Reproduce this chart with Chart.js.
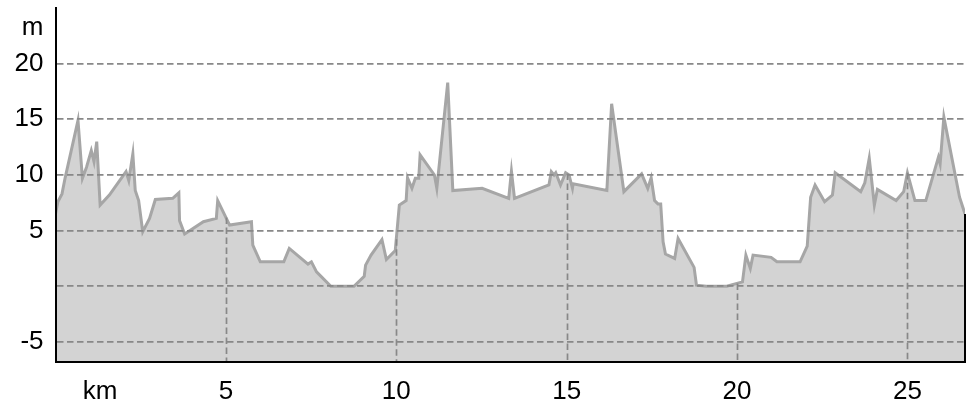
<!DOCTYPE html>
<html>
<head>
<meta charset="utf-8">
<script src="https://cdn.jsdelivr.net/npm/chart.js@4"></script>
<style>
  html, body { margin: 0; padding: 0; background: #fff; }
  #wrap { width: 974px; height: 410px; position: relative; }
</style>
</head>
<body>
<div id="wrap"><canvas id="profileChart"></canvas></div>
<script>
// distance along the route (km) and elevation (m)
const distKm = [0, 0.07, 0.19, 0.28, 0.66, 0.79, 0.91, 1.05, 1.13, 1.21, 1.31, 1.58, 2.07, 2.15, 2.27, 2.34, 2.44, 2.56,
  2.76, 2.93, 3.44, 3.62, 3.64, 3.79, 4.34, 4.72, 4.76, 5.11, 5.75, 5.79, 6.01, 6.7, 6.86, 7.41, 7.51, 7.66, 8.08,
  8.76, 9.06, 9.1, 9.26, 9.58, 9.71, 9.97, 10.09, 10.29, 10.33, 10.46, 10.56, 10.66, 10.7, 11.12, 11.19, 11.51,
  11.66, 12.52, 13.3, 13.38, 13.47, 14.48, 14.55, 14.63, 14.68, 14.82, 14.97, 15.07, 15.17, 15.19, 16.18, 16.32,
  16.68, 17.2, 17.38, 17.48, 17.58, 17.68, 17.76, 17.83, 17.9, 18.17, 18.27, 18.74, 18.81, 19.1, 19.7, 20.16,
  20.26, 20.39, 20.47, 21.0, 21.17, 21.85, 22.06, 22.16, 22.29, 22.57, 22.8, 22.88, 23.63, 23.75, 23.88, 24.03,
  24.12, 24.67, 24.89, 25.0, 25.22, 25.54, 25.91, 25.96, 26.07, 26.53, 26.69];
const elevM = [6.5, 7.6, 8.3, 9.7, 14.9, 9.7, 10.7, 12.2, 11.2, 13.0, 7.3, 8.2, 10.3, 9.5, 11.9, 8.6, 7.7, 4.9,
  6.1, 7.8, 7.9, 8.4, 5.9, 4.7, 5.8, 6.1, 7.7, 5.5, 5.8, 3.7, 2.2, 2.2, 3.4, 2.0, 2.2, 1.3, 0,
  0, 0.9, 1.9, 2.8, 4.2, 2.4, 3.2, 7.3, 7.7, 9.75, 8.8, 9.7, 9.7, 11.8, 10.0, 8.8, 18.3,
  8.6, 8.8, 7.9, 10.35, 7.9, 9.1, 10.3, 10.0, 10.2, 9.1, 10.2, 10.0, 8.8, 9.2, 8.6, 16.4,
  8.5, 10.1, 8.8, 9.75, 7.7, 7.4, 7.4, 4.0, 2.9, 2.5, 4.3, 1.7, 0.1, 0, 0, 0.4,
  2.8, 1.6, 2.8, 2.6, 2.2, 2.2, 3.6, 8.0, 9.1, 7.6, 8.2, 10.2, 8.5, 9.3, 11.5, 7.3,
  8.7, 7.7, 8.5, 10.2, 7.7, 7.7, 11.6, 11.0, 15.2, 8.0, 6.5];

const xTicks = [1.31, 5, 10, 15, 20, 25];
const xTickLabels = ['km', '5', '10', '15', '20', '25'];
const yTicks = [-5, 0, 5, 10, 15, 20, 23.2];
const yTickLabels = ['-5', '', '5', '10', '15', '20', 'm'];
const xGridKm = [5, 10, 15, 20, 25];

const FONT = { family: "'Liberation Sans', Arial, sans-serif", size: 26 };
const GRID_GREY = '#888888';
const GRID_DASH = [6.5, 3.5];

// elevation at a given km, linear between samples
function elevAt(km) {
    for (let i = 1; i < distKm.length; i++) {
        if (km <= distKm[i]) {
            const t = (km - distKm[i - 1]) / (distKm[i] - distKm[i - 1]);
            return elevM[i - 1] + t * (elevM[i] - elevM[i - 1]);
        }
    }
    return elevM[elevM.length - 1];
}

// vertical dashed lines only under the profile, plus the closing edge on the right
const profileDecor = {
    id: 'profileDecor',
    afterDatasetsDraw(chart) {
        const { ctx, chartArea, scales: { x, y } } = chart;
        ctx.save();
        ctx.strokeStyle = GRID_GREY;
        ctx.lineWidth = 1.7;
        ctx.setLineDash(GRID_DASH);
        xGridKm.forEach(km => {
            const px = Math.round(x.getPixelForValue(km)) + 0.5;
            ctx.beginPath();
            ctx.moveTo(px, y.getPixelForValue(elevAt(km)));
            ctx.lineTo(px, chartArea.bottom);
            ctx.stroke();
        });
        ctx.setLineDash([]);
        const last = distKm.length - 1;
        const ex = x.getPixelForValue(distKm[last]);
        ctx.strokeStyle = '#000';
        ctx.lineWidth = 2;
        ctx.beginPath();
        ctx.moveTo(ex, y.getPixelForValue(elevM[last]));
        ctx.lineTo(ex, chartArea.bottom);
        ctx.stroke();
        ctx.restore();
    }
};

new Chart(document.getElementById('profileChart'), {
    type: 'line',
    data: {
        datasets: [{
            data: distKm.map((d, i) => ({ x: d, y: elevM[i] })),
            borderColor: '#a6a6a6',
            borderWidth: 3,
            backgroundColor: '#d3d3d3',
            fill: 'start',
            pointRadius: 0,
            tension: 0
        }]
    },
    options: {
        responsive: true,
        maintainAspectRatio: false,
        animation: false,
        layout: { padding: { top: 8, right: 9, bottom: 0, left: 0 } },
        plugins: { legend: { display: false }, tooltip: { enabled: false } },
        scales: {
            x: {
                type: 'linear',
                min: 0,
                max: 26.69,
                afterFit: s => { s.height = 48; s.paddingLeft = 0; s.paddingRight = 0; },
                afterBuildTicks: s => { s.ticks = xTicks.map(v => ({ value: v })); },
                grid: { display: false, drawTicks: false },
                border: { display: true, color: '#000', width: 2, z: 2 },
                ticks: {
                    padding: 14.5,
                    color: '#000',
                    font: FONT,
                    maxRotation: 0,
                    autoSkip: false,
                    callback: (v, i) => xTickLabels[i]
                }
            },
            y: {
                min: -6.8,
                max: 25,
                afterFit: s => { s.width = 55.5; s.paddingTop = 0; s.paddingBottom = 0; },
                afterBuildTicks: s => { s.ticks = yTicks.map(v => ({ value: v })); },
                grid: {
                    z: 1,
                    drawTicks: false,
                    lineWidth: 1.7,
                    color: c => (c.tick && c.tick.value === 23.2 ? 'rgba(0,0,0,0)' : GRID_GREY)
                },
                border: { display: true, color: '#000', width: 2, dash: GRID_DASH, z: 2 },
                ticks: {
                    padding: 12,
                    color: '#000',
                    font: FONT,
                    autoSkip: false,
                    callback: (v, i) => yTickLabels[i]
                }
            }
        }
    },
    plugins: [profileDecor]
});
</script>
</body>
</html>
